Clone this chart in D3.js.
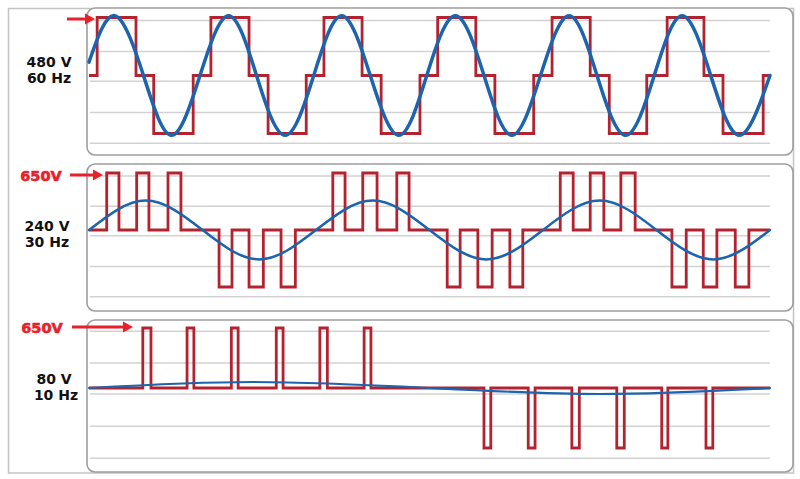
<!DOCTYPE html>
<html>
<head>
<meta charset="utf-8">
<script src="https://cdn.jsdelivr.net/npm/d3@7"></script>
<style>
  html, body { margin: 0; padding: 0; background: #fff; }
  svg { display: block; }
</style>
</head>
<body>
<svg id="chart" width="800" height="479"></svg>
<script>
// ---------------- DATA ----------------
const timeDomainMs = [0, 100];
const voltLabels = ["480 V", "240 V", "80 V"];
const freqLabels = ["60 Hz", "30 Hz", "10 Hz"];
const busLabel = "650V";
const busVolts = 650;
const gridVolts = [615, 270, -65, -415, -760];

// Panel 1: six-step output, [time ms, volts] step points
const sixStep60 = [
  [0, 0], [1.2, 650], [6.9, 0], [9.5, -650], [15.3, 0],
  [17.9, 650], [23.5, 0], [26.3, -650], [31.9, 0],
  [34.5, 650], [40.1, 0], [42.9, -650], [48.6, 0],
  [51.2, 650], [56.8, 0], [59.6, -650], [65.3, 0],
  [68.0, 650], [73.6, 0], [76.4, -650], [81.9, 0],
  [84.9, 650], [90.3, 0], [93.1, -650], [99.0, 0], [100, 0]
];
// Panel 1 fundamental [time ms, volts]
const sine60 = [
  [0, 150], [3.8, 670], [8.0, 0], [12.1, -670], [16.3, 0],
  [20.5, 670], [24.6, 0], [28.8, -670], [33.0, 0],
  [37.1, 670], [41.3, 0], [45.5, -670], [49.6, 0],
  [53.8, 670], [58.0, 0], [62.1, -670], [66.3, 0],
  [70.5, 670], [74.6, 0], [78.8, -670], [83.0, 0],
  [87.1, 670], [91.3, 0], [95.5, -670], [100, 0]
];

// Panel 2: PWM pulses [start ms, end ms]
const pulsesPos30 = [
  [2.6, 4.4], [7.0, 8.8], [11.6, 13.5],
  [35.8, 37.6], [40.2, 42.3], [45.2, 47.0],
  [69.2, 71.1], [73.6, 75.6], [78.1, 80.2]
];
const pulsesNeg30 = [
  [19.1, 21.0], [23.5, 25.6], [28.2, 30.3],
  [52.6, 54.5], [57.1, 59.2], [61.8, 63.7],
  [85.6, 87.7], [90.2, 92.2], [94.9, 96.9]
];
const sine30 = [
  [0, 0], [8.33, 335], [16.67, 0], [25, -335], [33.33, 0],
  [41.67, 335], [50, 0], [58.33, -335], [66.67, 0],
  [75, 335], [83.33, 0], [91.67, -335], [100, 0]
];

// Panel 3: PWM pulses [start ms, end ms]
const pulsesPos10 = [
  [7.9, 9.1], [14.4, 15.4], [20.9, 21.9],
  [27.5, 28.5], [33.9, 35.0], [40.4, 41.4]
];
const pulsesNeg10 = [
  [58.0, 59.0], [64.5, 65.5], [70.9, 72.0],
  [77.5, 78.6], [84.1, 85.0], [90.6, 91.6]
];
const sine10 = [[0, 0], [24, 65], [50, 0], [75, -65], [100, 0]];

// ---------------- BUILD ----------------
function pulsesToSteps(pos, neg, v) {
  const ev = [];
  pos.forEach(p => ev.push({ a: p[0], b: p[1], v: v }));
  neg.forEach(p => ev.push({ a: p[0], b: p[1], v: -v }));
  ev.sort((x, y) => x.a - y.a);
  const pts = [[timeDomainMs[0], 0]];
  ev.forEach(e => { pts.push([e.a, e.v]); pts.push([e.b, 0]); });
  pts.push([timeDomainMs[1], 0]);
  return pts;
}

const panels = [
  { top: 8, bottom: 155, center: 75.5, half: 58, red: sixStep60, blue: sine60, blueW: 3.5,
    arrow: [67, 95, 19], showBus: false, vl: [49, 67], fl: [49, 83] },
  { top: 164, bottom: 311, center: 230, half: 57, red: pulsesToSteps(pulsesPos30, pulsesNeg30, busVolts), blue: sine30, blueW: 2.5,
    arrow: [70, 103, 175], showBus: true, bus: [41, 181], vl: [47, 231], fl: [47, 247] },
  { top: 320, bottom: 472, center: 388, half: 60, red: pulsesToSteps(pulsesPos10, pulsesNeg10, busVolts), blue: sine10, blueW: 2.2,
    arrow: [72, 133, 327], showBus: true, bus: [42, 333], vl: [54, 384], fl: [56, 400] }
];

const svg = d3.select("#chart");
const x = d3.scaleLinear().domain(timeDomainMs).range([89, 770]);

// outer frame
svg.append("rect").attr("x", 8.5).attr("y", 8.5).attr("width", 785).attr("height", 464.5)
  .attr("fill", "none").attr("stroke", "#c4c4c4").attr("stroke-width", 1.5);

const redColor = "#b3232f";
const blueColor = "#1c64ad";
const arrowColor = "#e8202a";

panels.forEach((p, i) => {
  const y = d3.scaleLinear().domain([-busVolts, busVolts]).range([p.center + p.half, p.center - p.half]);
  const g = svg.append("g");

  g.append("rect").attr("x", 87).attr("y", p.top).attr("width", 706).attr("height", p.bottom - p.top)
    .attr("rx", 8).attr("fill", "#fff").attr("stroke", "#9e9e9e").attr("stroke-width", 1.6);

  g.selectAll("line.grid").data(gridVolts).join("line").attr("class", "grid")
    .attr("x1", 90).attr("x2", 770)
    .attr("y1", d => y(d)).attr("y2", d => y(d))
    .attr("stroke", "#d2d2d2").attr("stroke-width", 1.5);

  const blueLine = d3.line().x(d => x(d[0])).y(d => y(d[1])).curve(d3.curveNatural);
  const redLine = d3.line().x(d => x(d[0])).y(d => y(d[1])).curve(d3.curveStepAfter);

  g.append("path").attr("d", redLine(p.red)).attr("fill", "none")
    .attr("stroke", redColor).attr("stroke-width", 2.8).attr("stroke-linejoin", "miter");
  g.append("path").attr("d", blueLine(p.blue)).attr("fill", "none")
    .attr("stroke", blueColor).attr("stroke-width", p.blueW).attr("stroke-linecap", "round");

  // arrow
  const [ax0, ax1, ay] = p.arrow;
  g.append("line").attr("x1", ax0).attr("x2", ax1 - 8).attr("y1", ay).attr("y2", ay)
    .attr("stroke", arrowColor).attr("stroke-width", 3);
  g.append("path").attr("d", `M${ax1},${ay} L${ax1 - 10},${ay - 5.5} L${ax1 - 10},${ay + 5.5} Z`)
    .attr("fill", arrowColor);

  if (p.showBus) {
    g.append("text").attr("x", p.bus[0]).attr("y", p.bus[1]).attr("text-anchor", "middle")
      .attr("font-family", "DejaVu Sans").attr("font-weight", "bold").attr("font-size", 14.5)
      .attr("fill", arrowColor).attr("stroke", arrowColor).attr("stroke-width", 0.6)
      .text(busLabel);
  }
  g.append("text").attr("x", p.vl[0]).attr("y", p.vl[1]).attr("text-anchor", "middle")
    .attr("font-family", "DejaVu Sans").attr("font-weight", "bold").attr("font-size", 14)
    .attr("fill", "#111").text(voltLabels[i]);
  g.append("text").attr("x", p.fl[0]).attr("y", p.fl[1]).attr("text-anchor", "middle")
    .attr("font-family", "DejaVu Sans").attr("font-weight", "bold").attr("font-size", 14)
    .attr("fill", "#111").text(freqLabels[i]);
});
</script>
</body>
</html>
